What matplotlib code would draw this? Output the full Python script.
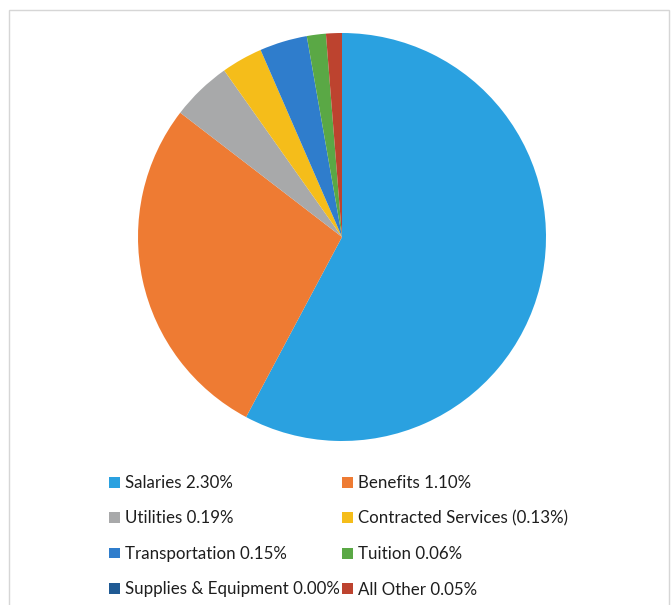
from matplotlib import pyplot as plt
from matplotlib.patches import Rectangle, Patch

# Ausgabenanteile
categories = ['Salaries', 'Benefits', 'Utilities', 'Contracted Services',
              'Transportation', 'Tuition', 'Supplies & Equipment', 'All Other']
values = [2.30, 1.10, 0.19, 0.13, 0.15, 0.06, 0.00, 0.05]
legend_labels = ['Salaries 2.30%', 'Benefits 1.10%', 'Utilities 0.19%',
                 'Contracted Services (0.13%)', 'Transportation 0.15%',
                 'Tuition 0.06%', 'Supplies & Equipment 0.00%', 'All Other 0.05%']
colors = ['#2aa1e0', '#ee7b33', '#a8a9aa', '#f5bd1a',
          '#2f7dcc', '#5aa845', '#1f5a94', '#bd432f']

plt.rcParams['font.family'] = ['Lato', 'DejaVu Sans']

fig = plt.figure(figsize=(6.71, 6.05), dpi=100)

# Rahmen um das Diagramm
fig.patches.append(Rectangle((9 / 671, -0.01), 660 / 671, 1 - 10 / 605 + 0.01,
                             transform=fig.transFigure, fill=False,
                             edgecolor='#d6d6d6', linewidth=1.0))

ax = fig.add_axes([138 / 671, 1 - 441 / 605, 408 / 671, 408 / 605])
wedges, _ = ax.pie(values, colors=colors, startangle=90, counterclock=False,
                   radius=1.0, wedgeprops=dict(linewidth=0))
ax.set_xlim(-1, 1)
ax.set_ylim(-1, 1)
ax.set_aspect('equal')
ax.axis('off')

# Legende zeilenweise wie im Original (2 Spalten)
order = [0, 2, 4, 6, 1, 3, 5, 7]
handles = [Patch(facecolor=colors[i], edgecolor='none') for i in order]
labels = [legend_labels[i] for i in order]
fig.legend(handles, labels, ncol=2, loc='upper left',
           bbox_to_anchor=(109 / 671, 1 - 475 / 605), frameon=False,
           fontsize=12.2, handlelength=0.62, handleheight=0.62,
           handletextpad=0.35, columnspacing=0.1, labelspacing=1.15,
           borderpad=0, borderaxespad=0, labelcolor='#1e1e1e')

fig.savefig('out.png', dpi=100)
